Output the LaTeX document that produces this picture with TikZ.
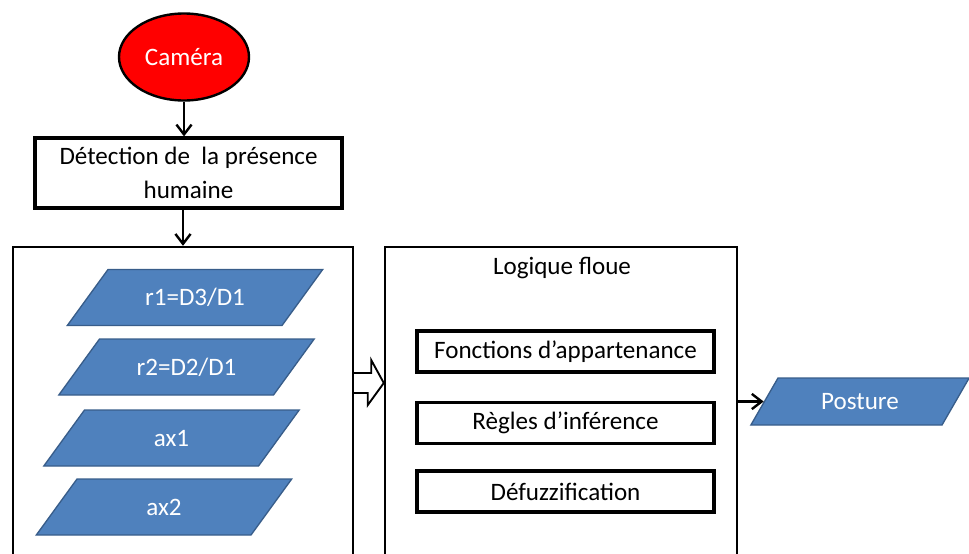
\documentclass[tikz,border=0pt]{standalone}
\usepackage{fontspec}
\setmainfont{Carlito}
\usepackage{tikz}
\usetikzlibrary{arrows.meta,positioning,shapes.geometric,calc}
\definecolor{camRed}{HTML}{FF0000}
\definecolor{dataBlue}{HTML}{4F81BD}
\definecolor{dataEdge}{HTML}{385D8A}
\newcommand\pxu{0.75pt}
\newcommand\diagfont{\fontsize{18.8}{25}\selectfont}
\tikzset{
  camnode/.style={ellipse, draw=black, fill=camRed, line width=1.8pt,
        minimum width=130*\pxu, minimum height=87*\pxu, inner sep=0pt,
        text=white, font=\diagfont},
  procbox/.style={draw=black, fill=white, line width=2.4pt,
        minimum width=307*\pxu, minimum height=70*\pxu, align=center,
        font=\diagfont},
  bigbox/.style={draw=black, line width=1.8pt, minimum height=346*\pxu},
  databox/.style={trapezium, trapezium left angle=54, trapezium right angle=126,
        draw=dataEdge, fill=dataBlue, line width=1pt, inner sep=0pt,
        text width=174*\pxu, align=center, text height=36*\pxu, text depth=20*\pxu,
        text=white, font=\diagfont},
  rulebox/.style={draw=black, line width=2.4pt, minimum width=297*\pxu,
        minimum height=41*\pxu, inner sep=0pt, font=\diagfont},
  flow/.style={-{Straight Barb[length=2.6mm, width=4mm]}, line width=1.8pt},
  fatflow/.style={draw=black, fill=white, line width=1.4pt, line join=miter}
}

\begin{document}
\begin{tikzpicture}[x=\pxu, y=-\pxu]
% page frame
\path[use as bounding box, clip] (0,0) rectangle (969,553);

% acquisition
\node[camnode] (cam) at (184,57) {Caméra};
\node[procbox] (detect) at (188.5,173) {Détection de\ \ la présence\\humaine};
\draw[flow] (cam.south) -- (cam.south |- detect.north);

% features
\node[bigbox, minimum width=340*\pxu] (feat) at (183,420) {};
\draw[flow] (feat.north |- detect.south) -- (feat.north);
\node[databox] (r1) at (195,297.5) {r1=D3/D1};
\node[databox] (r2) at (186.5,367) {r2=D2/D1};
\node[databox] (ax1) at (171.5,438) {ax1};
\node[databox] (ax2) at (164,507) {ax2};

% fuzzy logic
\node[bigbox, minimum width=352*\pxu] (fuzzy) at (561,420) {};
\node[font=\diagfont] (fltitle) at (562,268) {Logique floue};
\node[rulebox] (memb) at (565.5,351.5) {Fonctions d’appartenance};
\node[rulebox] (rules) at (565.5,423) {Règles d’inférence};
\node[rulebox] (defuz) at (565.5,491.5) {Défuzzification};
% hollow block arrow between the two blocks
\draw[fatflow] ($(feat.east)+(0,-47)$) -- ++(17,0) -- ++(0,-13)
   -- ($(fuzzy.west)+(0,-37)$) -- ++(-16,22) -- ++(0,-12) -- ($(feat.east)+(0,-27)$);

% output
\node[databox, trapezium left angle=60, trapezium right angle=120,
      text width=164*\pxu, text height=31.5*\pxu, text depth=15.5*\pxu] (post) at (860,401.5) {Posture};
\draw[flow] (fuzzy.east |- post.west) -- (post.west);
\end{tikzpicture}
\end{document}
